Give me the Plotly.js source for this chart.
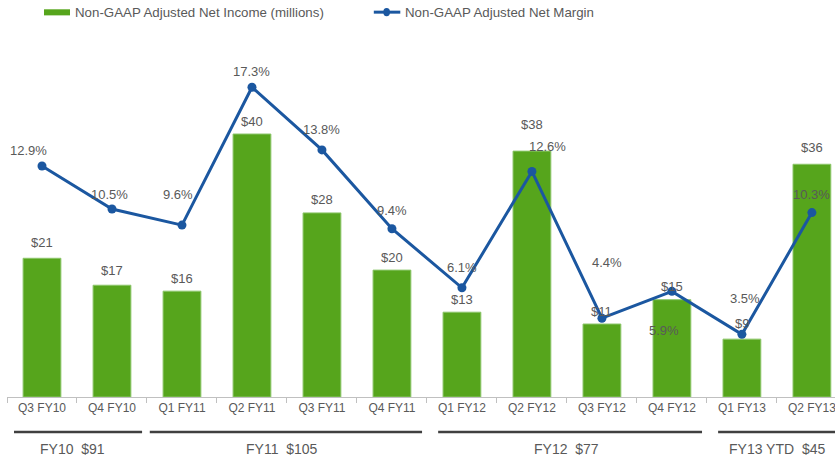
<!DOCTYPE html>
<html>
<head>
<meta charset="utf-8">
<script src="https://cdn.plot.ly/plotly-3.0.1.min.js"></script>
<style>html,body{margin:0;padding:0;background:#fff;}#chart{width:835px;height:457px;}</style>
</head>
<body>
<div id="chart"></div>
<script>
// ---- data ----
const categories = ["Q3 FY10","Q4 FY10","Q1 FY11","Q2 FY11","Q3 FY11","Q4 FY11","Q1 FY12","Q2 FY12","Q3 FY12","Q4 FY12","Q1 FY13","Q2 FY13"];
const netIncome = [21.1, 17.0, 16.1, 40.0, 28.0, 19.3, 12.9, 37.4, 11.1, 14.8, 8.8, 35.4];
const netIncomeLabels = ["$21","$17","$16","$40","$28","$20","$13","$38","$11","$15","$9","$36"];
const netMargin = [12.9, 10.5, 9.6, 17.3, 13.8, 9.4, 6.1, 12.6, 4.4, 5.9, 3.5, 10.3];
const netMarginLabels = ["12.9%","10.5%","9.6%","17.3%","13.8%","9.4%","6.1%","12.6%","4.4%","5.9%","3.5%","10.3%"];
const groupLabels = ["FY10  $91","FY11  $105","FY12  $77","FY13 YTD  $45"];
const groupStart = [0, 2, 6, 10];
const groupEnd = [1, 5, 9, 11];

// ---- style (label offsets in px, bracket paddings in category units) ----
const barLabelShift = [16,15,13,13,13,13,13,27,13,13,16,17];
const lineLabelDx = [-14,-2,-4,0,0,0,0,16,5,-8,3,0];
const lineLabelDy = [16,15,31,16,20,18,20,25,56,-39,36,18];
const groupPadL = [0.4, 0.46, 0.34, 0.34];
const groupPadR = [0.43, 0.43, 0.43, 0.6];
const groupLabelDx = [-4, -5, 0, 0];

const GREEN = "#56a51c", BLUE = "#1b57a0", TXT = "#595959";
const FONT = "Liberation Sans, Arial, sans-serif";

const traces = [
  {type:"bar", x:categories, y:netIncome, name:"Non-GAAP Adjusted Net Income (millions)",
   marker:{color:GREEN, line:{color:"#8cc66a", width:1}}, width:0.54, hoverinfo:"skip"},
  {type:"scatter", mode:"lines+markers", x:categories, y:netMargin, yaxis:"y2",
   name:"Non-GAAP Adjusted Net Margin",
   line:{color:BLUE, width:3}, marker:{color:BLUE, size:9}, hoverinfo:"skip"}
];

const annotations = [];
const shapes = [];
categories.forEach((c,i)=>{
  annotations.push({x:c, y:netIncome[i], xref:"x", yref:"y", text:netIncomeLabels[i], showarrow:false,
    yanchor:"middle", yshift:barLabelShift[i], font:{family:FONT,size:13,color:TXT}});
  annotations.push({x:c, y:netMargin[i], xref:"x", yref:"y2", text:netMarginLabels[i], showarrow:false,
    yanchor:"middle", xshift:lineLabelDx[i], yshift:lineLabelDy[i], font:{family:FONT,size:13,color:TXT}});
});
groupLabels.forEach((g,i)=>{
  shapes.push({type:"line", xref:"x", yref:"paper", x0:groupStart[i]-groupPadL[i], x1:groupEnd[i]+groupPadR[i],
    y0:-0.098, y1:-0.098, line:{color:"#404040", width:2.5}});
  annotations.push({x:(groupStart[i]+groupEnd[i])/2, xshift:groupLabelDx[i], y:-0.146, xref:"x", yref:"paper", text:g,
    showarrow:false, yanchor:"middle", font:{family:FONT,size:14,color:TXT}});
});
// manual legend
shapes.push({type:"rect", xref:"paper", yref:"paper", x0:0.0447, x1:0.0761, y0:1.069, y1:1.086,
  fillcolor:GREEN, line:{width:0}});
shapes.push({type:"line", xref:"paper", yref:"paper", x0:0.443, x1:0.475, y0:1.078, y1:1.078,
  line:{color:BLUE, width:3}});
shapes.push({type:"circle", xref:"paper", yref:"paper", x0:0.4545, x1:0.4625, y0:1.0665, y1:1.0895,
  fillcolor:BLUE, line:{width:0}});
annotations.push({xref:"paper", yref:"paper", x:0.0797, y:1.078, xanchor:"left", yanchor:"middle",
  text:traces[0].name, showarrow:false, font:{family:FONT,size:13.3,color:TXT}});
annotations.push({xref:"paper", yref:"paper", x:0.478, y:1.078, xanchor:"left", yanchor:"middle",
  text:traces[1].name, showarrow:false, font:{family:FONT,size:13.3,color:TXT}});

const layout = {
  width:835, height:457,
  margin:{l:7, r:0, t:40, b:60},
  paper_bgcolor:"#fff", plot_bgcolor:"#fff",
  showlegend:false,
  font:{family:FONT, color:TXT},
  xaxis:{type:"category", range:[-0.5, 11.33], tickson:"boundaries", ticks:"outside", ticklen:5,
    tickcolor:"#c0c0c0", showline:true, linecolor:"#c0c0c0", linewidth:1, showgrid:false,
    tickfont:{family:FONT, size:12, color:TXT}, fixedrange:true},
  yaxis:{range:[0, 54.3], visible:false, showgrid:false, zeroline:false, fixedrange:true},
  yaxis2:{range:[0, 19.94], overlaying:"y", visible:false, showgrid:false, zeroline:false, fixedrange:true},
  annotations:annotations, shapes:shapes
};

Plotly.newPlot("chart", traces, layout, {displayModeBar:false, staticPlot:true});
</script>
</body>
</html>
